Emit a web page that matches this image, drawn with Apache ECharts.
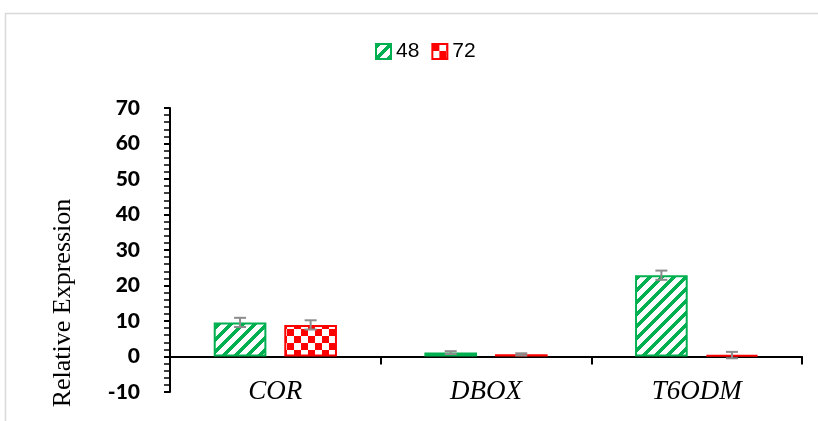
<!DOCTYPE html>
<html>
<head>
<meta charset="utf-8">
<script src="https://cdn.jsdelivr.net/npm/echarts@6/dist/echarts.min.js"></script>
<style>
  html, body { margin: 0; padding: 0; background: #fff; }
  #chart { width: 818px; height: 421px; }
</style>
</head>
<body>
<div id="chart"></div>
<script>
// data
const genes = ['COR', 'DBOX', 'T6ODM'];
const seriesNames = ['48', '72'];
const values48 = [9.6, 1.1, 22.9];
const values72 = [8.9, 0.6, 0.4];
const err48 = [1.3, 0.4, 1.3];
const err72 = [1.3, 0.3, 0.9];
const yTicks = { min: -10, max: 70, interval: 10 };

const GREEN = '#00B050';
const RED = '#FF0000';

// stripe fill for the 48 bars
function stripeTile() {
    const c = document.createElement('canvas');
    c.width = 12; c.height = 12;
    const ctx = c.getContext('2d');
    ctx.fillStyle = '#fff';
    ctx.fillRect(0, 0, 12, 12);
    ctx.fillStyle = GREEN;
    for (let x = 0; x < 12; x++) {
        for (let y = 0; y < 12; y++) {
            if ((x + y) % 12 < 5) ctx.fillRect(x, y, 1, 1);
        }
    }
    return c;
}

// checker fill for the 72 bars
function checkerTile() {
    const s = 7;
    const c = document.createElement('canvas');
    c.width = s * 2; c.height = s * 2;
    const ctx = c.getContext('2d');
    ctx.fillStyle = '#fff';
    ctx.fillRect(0, 0, s * 2, s * 2);
    ctx.fillStyle = RED;
    ctx.fillRect(0, 0, s, s);
    ctx.fillRect(s, s, s, s);
    return c;
}

const BAR_W = 0.25, BAR_GAP = 0.34;

function errorSeries(vals, errs, idx) {
    return {
        type: 'custom',
        name: seriesNames[idx],
        z: 5,
        silent: true,
        data: vals.map((v, i) => [i, v, errs[i]]),
        encode: { x: 0, y: 1 },
        renderItem: function (params, api) {
            const i = api.value(0), v = api.value(1), e = api.value(2);
            const band = api.size([1, 0])[0];
            const bw = band * BAR_W;
            const total = bw * 2 + bw * BAR_GAP;
            const off = idx === 0 ? -total / 2 + bw / 2 : total / 2 - bw / 2;
            const top = api.coord([i, v + e]);
            const bot = api.coord([i, v - e]);
            const x = top[0] + off;
            const cap = 6;
            const style = { stroke: '#8c8c8c', lineWidth: 2 };
            return {
                type: 'group',
                children: [
                    { type: 'line', shape: { x1: x, y1: top[1], x2: x, y2: bot[1] }, style },
                    { type: 'line', shape: { x1: x - cap, y1: top[1], x2: x + cap, y2: top[1] }, style },
                    { type: 'line', shape: { x1: x - cap, y1: bot[1], x2: x + cap, y2: bot[1] }, style }
                ]
            };
        }
    };
}

const chart = echarts.init(document.getElementById('chart'));

const option = {
    animation: false,
    backgroundColor: '#fff',
    graphic: [
        {
            type: 'rect',
            shape: { x: 5.5, y: 13.5, width: 900, height: 500 },
            style: { fill: 'none', stroke: '#d9d9d9', lineWidth: 1.5 },
            silent: true
        },
        {
            type: 'text',
            x: 63, y: 303,
            rotation: Math.PI / 2,
            style: {
                text: 'Relative Expression',
                font: '26px "Liberation Serif"',
                fill: '#000',
                align: 'center',
                verticalAlign: 'middle'
            }
        }
    ],
    legend: {
        data: seriesNames,
        top: 36,
        left: 370,
        icon: 'rect',
        itemWidth: 15,
        itemHeight: 15,
        itemGap: 12,
        textStyle: { fontFamily: 'Liberation Sans', fontSize: 21, color: '#000' }
    },
    grid: { left: 170, right: 16, top: 108, bottom: 29, outerBoundsMode: 'none', containLabel: false },
    xAxis: {
        type: 'category',
        data: genes,
        axisLine: { onZero: true, lineStyle: { color: '#000', width: 2 } },
        axisTick: { show: true, length: 8, lineStyle: { color: '#000', width: 2 } },
        axisLabel: {
            margin: -14,
            fontFamily: 'Liberation Serif',
            fontStyle: 'italic',
            fontSize: 27,
            color: '#000'
        }
    },
    yAxis: {
        type: 'value',
        min: yTicks.min,
        max: yTicks.max,
        interval: yTicks.interval,
        splitLine: { show: false },
        axisLine: { show: true, lineStyle: { color: '#000', width: 2 } },
        axisTick: { show: true, length: 6, lineStyle: { color: '#000', width: 2 } },
        minorTick: { show: true, splitNumber: 5, length: 6, lineStyle: { color: '#000', width: 1.5 } },
        axisLabel: {
            margin: 30,
            fontFamily: 'Lato',
            fontWeight: 900,
            fontSize: 21,
            color: '#000'
        }
    },
    series: [
        {
            type: 'bar',
            name: seriesNames[0],
            data: values48,
            barWidth: '25%',
            barGap: '34%',
            itemStyle: {
                color: { image: stripeTile(), repeat: 'repeat' },
                borderColor: GREEN,
                borderWidth: 2
            }
        },
        {
            type: 'bar',
            name: seriesNames[1],
            data: values72,
            barWidth: '25%',
            barGap: '34%',
            itemStyle: {
                color: { image: checkerTile(), repeat: 'repeat' },
                borderColor: RED,
                borderWidth: 2
            }
        },
        errorSeries(values48, err48, 0),
        errorSeries(values72, err72, 1)
    ]
};

chart.setOption(option);
</script>
</body>
</html>
